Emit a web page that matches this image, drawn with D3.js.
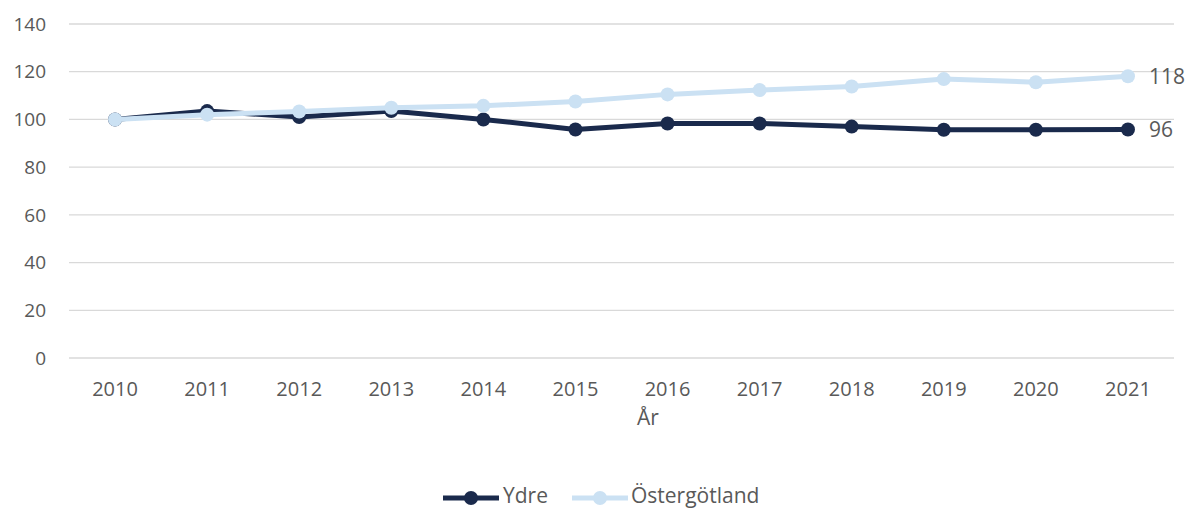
<!DOCTYPE html>
<html>
<head>
<meta charset="utf-8">
<script src="https://cdn.jsdelivr.net/npm/d3@7"></script>
<style>
  body { margin: 0; background: #fff; }
  text { font-family: "Open Sans", "Liberation Sans", sans-serif; fill: #595959; }
</style>
</head>
<body>
<div id="chart"></div>
<script>
// data
const years = ["2010","2011","2012","2013","2014","2015","2016","2017","2018","2019","2020","2021"];
const ydre = [100, 103.5, 101, 103.5, 100, 95.8, 98.3, 98.3, 97, 95.7, 95.7, 95.8];
const ostergotland = [100, 102, 103.3, 104.9, 105.7, 107.5, 110.5, 112.3, 113.8, 116.9, 115.6, 118.1];
const yTicks = [0, 20, 40, 60, 80, 100, 120, 140];
const series = [
  {name: "Ydre", values: ydre, color: "#1a2a4c", label: "96"},
  {name: "Östergötland", values: ostergotland, color: "#cbe1f3", label: "118"}
];

const W = 1188, H = 508;
const margin = {top: 24, right: 14, bottom: 150, left: 69};

const svg = d3.select("#chart").append("svg")
  .attr("width", W).attr("height", H);

const x = d3.scaleBand().domain(years).range([margin.left, W - margin.right]);
const y = d3.scaleLinear().domain([0, 140]).range([H - margin.bottom, margin.top]);

// gridlines
svg.append("g").selectAll("line").data(yTicks).enter().append("line")
  .attr("x1", margin.left).attr("x2", W - margin.right)
  .attr("y1", d => y(d)).attr("y2", d => y(d))
  .attr("stroke", "#d9d9d9").attr("stroke-width", 1.3);

// y labels
svg.append("g").selectAll("text").data(yTicks).enter().append("text")
  .attr("x", 46).attr("y", d => y(d)).attr("dy", "0.35em")
  .attr("text-anchor", "end").style("font-size", "19px")
  .text(d => d);

// x labels
svg.append("g").selectAll("text").data(years).enter().append("text")
  .attr("x", d => x(d) + x.bandwidth() / 2).attr("y", 389).attr("dy", "0.35em")
  .attr("text-anchor", "middle").style("font-size", "20px")
  .text(d => d);

svg.append("text").attr("x", 648).attr("y", 418).attr("dy", "0.35em")
  .attr("text-anchor", "middle").style("font-size", "21px").text("År");

const line = d3.line()
  .x((d, i) => x(years[i]) + x.bandwidth() / 2)
  .y(d => y(d));

series.forEach(s => {
  const g = svg.append("g");
  g.append("path").datum(s.values)
    .attr("d", line).attr("fill", "none")
    .attr("stroke", s.color).attr("stroke-width", 5)
    .attr("stroke-linejoin", "round");
  g.selectAll("circle").data(s.values).enter().append("circle")
    .attr("cx", (d, i) => x(years[i]) + x.bandwidth() / 2)
    .attr("cy", d => y(d)).attr("r", 7)
    .attr("fill", s.color);
  const last = s.values.length - 1;
  g.append("text")
    .attr("x", x(years[last]) + x.bandwidth() / 2 + 21)
    .attr("y", y(s.values[last])).attr("dy", "0.35em")
    .style("font-size", "21px").text(s.label);
});

// legend
const legend = [
  {s: series[0], x0: 443, tx: 503},
  {s: series[1], x0: 572, tx: 631}
];
legend.forEach(l => {
  const g = svg.append("g");
  g.append("line").attr("x1", l.x0).attr("x2", l.x0 + 56)
    .attr("y1", 498).attr("y2", 498)
    .attr("stroke", l.s.color).attr("stroke-width", 5);
  g.append("circle").attr("cx", l.x0 + 28).attr("cy", 498).attr("r", 7).attr("fill", l.s.color);
  g.append("text").attr("x", l.tx).attr("y", 496).attr("dy", "0.35em")
    .style("font-size", "21px").text(l.s.name);
});
</script>
</body>
</html>
